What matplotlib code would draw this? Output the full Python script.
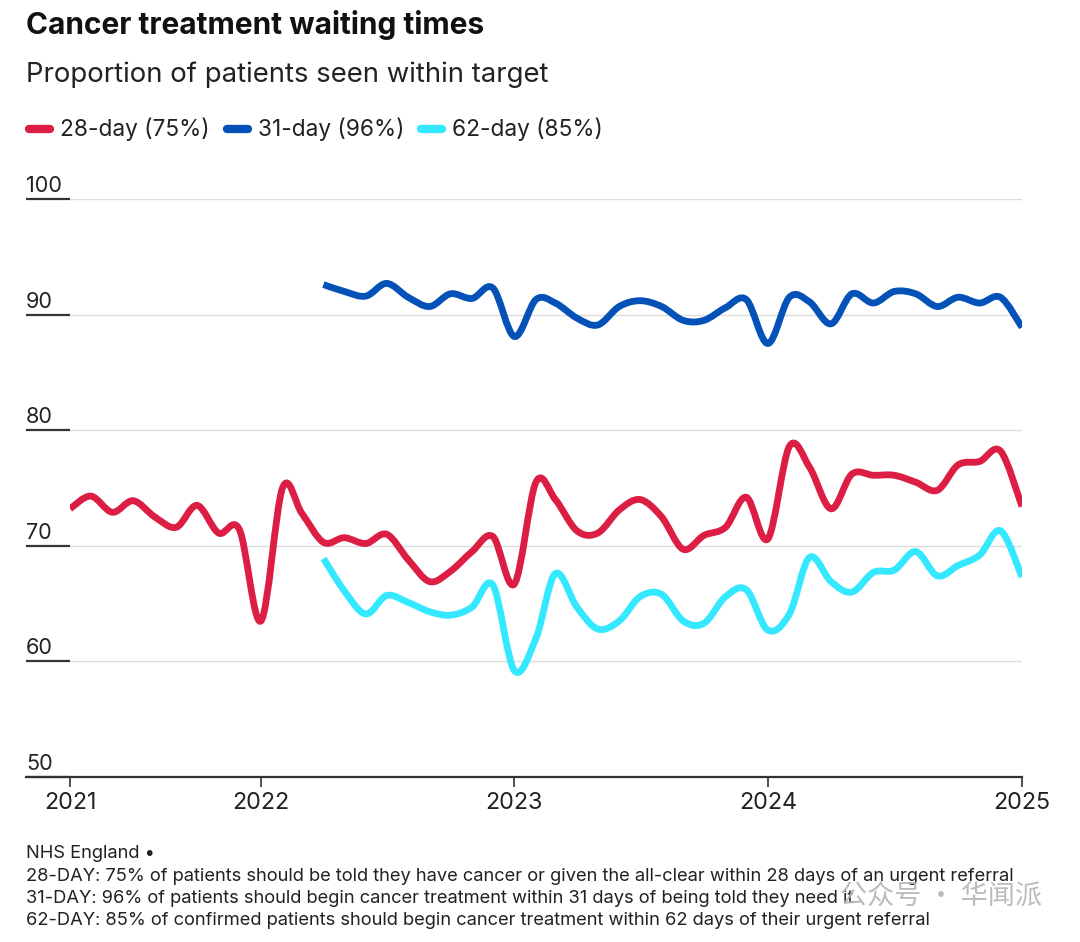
import matplotlib
matplotlib.use("Agg")
import matplotlib.pyplot as plt
import matplotlib.dates as mdates
from matplotlib.path import Path
from matplotlib.patches import PathPatch
from matplotlib.lines import Line2D
import numpy as np
import pandas as pd

plt.rcParams['font.family'] = ['Inter', 'DejaVu Sans']

# monthly data, April 2021 - January 2025
months = pd.date_range('2021-04-01', '2025-01-01', freq='MS')

day28 = [73.2, 74.3, 72.9, 73.9, 72.5, 71.6, 73.5, 71.1, 71.4, 63.5,
         75.0, 72.8, 70.3, 70.7, 70.2, 71.0, 68.8, 66.9, 67.8, 69.5,
         70.8, 66.7, 75.5, 74.0, 71.3, 71.1, 73.1, 74.0, 72.5, 69.7,
         70.9, 71.6, 74.2, 70.6, 78.6, 76.8, 73.2, 76.2, 76.1, 76.1,
         75.5, 74.8, 77.0, 77.3, 78.2, 73.4]

# 31-day and 62-day series start April 2022
day31 = [92.6, 92.0, 91.6, 92.7, 91.5, 90.7, 91.8, 91.4, 92.3, 88.1,
         91.3, 91.0, 89.7, 89.1, 90.7, 91.2, 90.7, 89.5, 89.5, 90.6,
         91.3, 87.5, 91.5, 91.1, 89.2, 91.8, 91.0, 92.0, 91.8, 90.7,
         91.5, 91.0, 91.5, 88.9]

day62 = [68.9, 66.1, 64.1, 65.7, 65.1, 64.3, 64.0, 64.7, 66.6, 59.2,
         62.0, 67.6, 64.7, 62.8, 63.5, 65.6, 65.8, 63.5, 63.3, 65.6,
         66.2, 62.7, 64.1, 69.0, 66.9, 66.0, 67.7, 67.9, 69.5, 67.4,
         68.3, 69.2, 71.3, 67.3]

series_labels = ['28-day (75%)', '31-day (96%)', '62-day (85%)']
colors = ['#DC1E44', '#0452B8', '#33E8FF']
y_ticks = [50, 60, 70, 80, 90, 100]
x_tick_labels = ['2021', '2022', '2023', '2024', '2025']
x_tick_dates = ['2021-04-01', '2022-01-01', '2023-01-01', '2024-01-01', '2025-01-01']


def smooth_path(x, y):
    # catmull-rom curve drawn as cubic bezier segments
    x = np.asarray(x, float)
    y = np.asarray(y, float)
    pts = np.column_stack([x, y])
    ext = np.vstack([pts[0], pts, pts[-1]])
    verts = [pts[0]]
    codes = [Path.MOVETO]
    for i in range(len(pts) - 1):
        p0, p1, p2, p3 = ext[i], ext[i + 1], ext[i + 2], ext[i + 3]
        c1 = p1 + (p2 - p0) / 6
        c2 = p2 - (p3 - p1) / 6
        verts += [c1, c2, p2]
        codes += [Path.CURVE4] * 3
    return Path(verts, codes)


W, H = 1080, 942
fig = plt.figure(figsize=(W / 100, H / 100), dpi=100)
ax_left, ax_right, ax_top, ax_bot = 70, 1022, 199, 777
ax = fig.add_axes([ax_left / W, 1 - ax_bot / H, (ax_right - ax_left) / W, (ax_bot - ax_top) / H])

xnum = mdates.date2num(months)
n28 = len(day28)
n31 = len(day31)
for vals, xs, c in [(day28, xnum[:n28], colors[0]),
                    (day62, xnum[-len(day62):], colors[2]),
                    (day31, xnum[-n31:], colors[1])]:
    ax.add_patch(PathPatch(smooth_path(xs, vals), facecolor='none', edgecolor=c,
                           lw=4.9, capstyle='butt', joinstyle='round', zorder=3))

ax.set_xlim(xnum[0], xnum[-1])
ax.set_ylim(50, 100)
for s in ax.spines.values():
    s.set_visible(False)

ax.set_yticks(y_ticks)
ax.yaxis.grid(True, color='#dcdcdc', lw=1)
ax.set_axisbelow(True)
ax.tick_params(axis='y', length=44 * 0.72, width=1.6, color='#333333', labelleft=False)
for v in y_ticks:
    ax.annotate(str(v), xy=(0, v), xycoords=('axes fraction', 'data'),
                xytext=(-44, 3), textcoords='offset pixels',
                ha='left', va='bottom', fontsize=15.6, color='#222222')

ax.set_xticks(mdates.date2num(pd.to_datetime(x_tick_dates)))
ax.set_xticklabels(x_tick_labels)
ax.tick_params(axis='x', length=7, width=1.2, color='#333333', pad=4,
               labelsize=16.8, labelcolor='#222222')
ax.plot([-44 / (ax_right - ax_left), 1], [0, 0], transform=ax.transAxes,
        color='#333333', lw=1.6, clip_on=False, zorder=4)

# titles
fig.text(26 / W, 1 - 25 / H, 'Cancer treatment waiting times', fontsize=21.5,
         fontweight='bold', color='#111111', va='center', ha='left')
fig.text(26 / W, 1 - 75 / H, 'Proportion of patients seen within target', fontsize=19.8,
         color='#222222', va='center', ha='left')

# legend
leg_x = [26, 224, 418]
for lx, lab, c in zip(leg_x, series_labels, colors):
    fig.add_artist(Line2D([(lx + 3) / W, (lx + 24) / W], [1 - 129 / H] * 2, color=c,
                          lw=6, solid_capstyle='round', transform=fig.transFigure))
    fig.text((lx + 34) / W, 1 - 129 / H, lab, fontsize=16.3, color='#222222',
             va='center', ha='left')

# footer
notes = ['NHS England \u2022',
         '28-DAY: 75% of patients should be told they have cancer or given the all-clear within 28 days of an urgent referral',
         '31-DAY: 96% of patients should begin cancer treatment within 31 days of being told they need it',
         '62-DAY: 85% of confirmed patients should begin cancer treatment within 62 days of their urgent referral']
for k, t in enumerate(notes):
    fig.text(26 / W, 1 - (854 + 22.3 * k) / H, t, fontsize=13.2, color='#222222',
             va='center', ha='left')

fig.text(840 / W, 1 - 897 / H, '公众号 · 华闻派', fontsize=19.5, color='#b4b4b4', alpha=0.9,
         family=['Noto Sans CJK SC', 'DejaVu Sans'], va='center', ha='left')

fig.savefig('out.png', dpi=100, facecolor='white')
